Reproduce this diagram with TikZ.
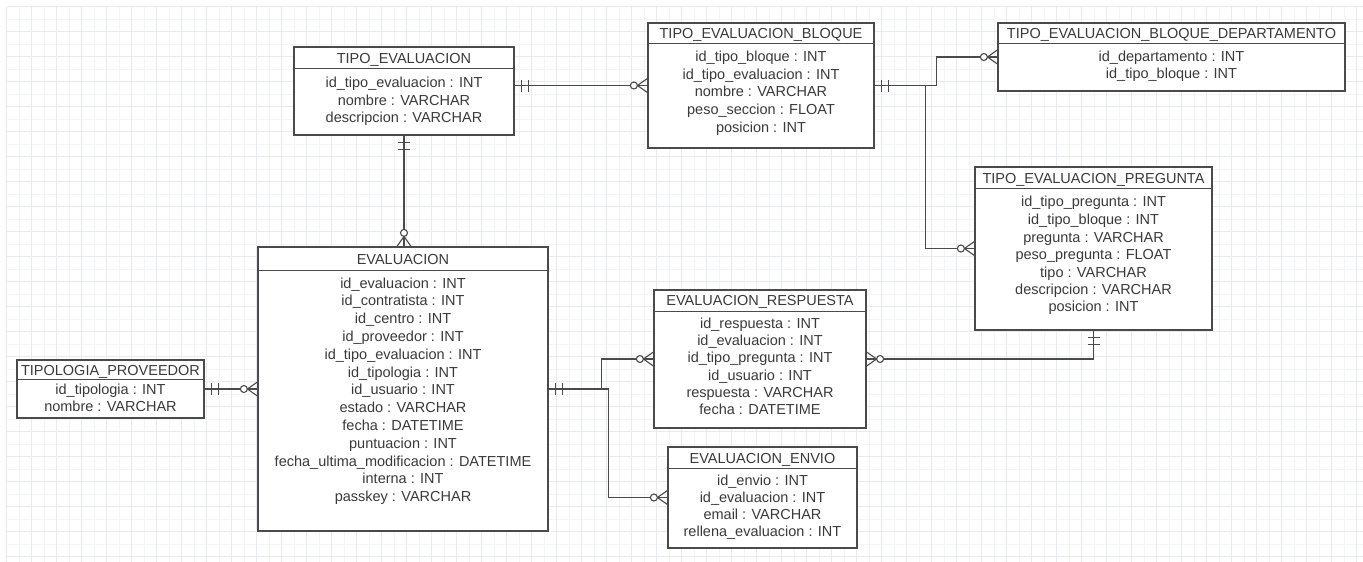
\documentclass[tikz,border=0pt]{standalone}
\usepackage{fontspec}
\setmainfont{Liberation Sans}
\definecolor{gridc}{HTML}{E8EAF1}
\definecolor{gridm}{HTML}{F3F4F8}
\definecolor{linec}{HTML}{4A4A4A}
\definecolor{txtc}{HTML}{3A3A3A}
\tikzset{
  tbl/.style={draw=linec, line width=1.2pt, fill=white, inner sep=0pt, rectangle},
  sepline/.style={draw=linec, line width=1.2pt},
  lbl/.style={inner sep=0pt, text=txtc, font=\fontsize{14.5}{16}\selectfont, anchor=base},
  rel/.style={draw=linec, line width=1.1pt},
  onemark/.pic={\draw[rel] (7,-6) -- (7,6); \draw[rel] (14,-6) -- (14,6);},
  zeromany/.pic={\draw[rel] (0,-7) -- (10,0) -- (0,7); \draw[rel] (0,0) -- (10,0); \draw[rel, fill=white] (13.5,0) circle (3.5);},
}
\newcommand\rowtext[4]{\node[lbl] (#1) at (#2,{#3+5}) {#4};}
\newcommand\hsep[2]{\draw[sepline] ([yshift=-#2pt]#1.north west) -- ([yshift=-#2pt]#1.north east);}
\begin{document}
\begin{tikzpicture}[x=1pt,y=-1pt]
\useasboundingbox (0,0) rectangle (1363,562);
\fill[white] (0,0) rectangle (1363,562);
% grid
\foreach \i in {0,...,108} { \draw[gridm, line width=0.6pt] ({6.7+12.5*\i},6.7) -- ({6.7+12.5*\i},562); }
\foreach \j in {0,...,44} { \draw[gridm, line width=0.6pt] (6.7,{6.7+12.5*\j}) -- (1363,{6.7+12.5*\j}); }
\foreach \i in {0,...,54} { \draw[gridc, line width=0.8pt] ({6.7+25*\i},6.7) -- ({6.7+25*\i},562); }
\foreach \j in {0,...,22} { \draw[gridc, line width=0.8pt] (6.7,{6.7+25*\j}) -- (1363,{6.7+25*\j}); }

% TIPO_EVALUACION
\node[tbl, minimum width=220, minimum height=88] (te) at (404,91) {};
\hsep{te}{22}
\rowtext{te-t}{404}{58}{TIPO\_EVALUACION}
\rowtext{te-1}{404}{82}{id\_tipo\_evaluacion : INT}
\rowtext{te-2}{404}{100}{nombre : VARCHAR}
\rowtext{te-3}{404}{117}{descripcion : VARCHAR}

% TIPO_EVALUACION_BLOQUE
\node[tbl, minimum width=226, minimum height=125] (teb) at (761,85.5) {};
\hsep{teb}{21}
\rowtext{teb-t}{761}{33.5}{TIPO\_EVALUACION\_BLOQUE}
\rowtext{teb-1}{761}{56}{id\_tipo\_bloque : INT}
\rowtext{teb-2}{761}{74}{id\_tipo\_evaluacion : INT}
\rowtext{teb-3}{761}{91}{nombre : VARCHAR}
\rowtext{teb-4}{761}{109}{peso\_seccion : FLOAT}
\rowtext{teb-5}{761}{127}{posicion : INT}

% TIPO_EVALUACION_BLOQUE_DEPARTAMENTO
\node[tbl, minimum width=347, minimum height=68] (tebd) at (1171.5,57) {};
\hsep{tebd}{21}
\rowtext{tebd-t}{1171.5}{33.5}{TIPO\_EVALUACION\_BLOQUE\_DEPARTAMENTO}
\rowtext{tebd-1}{1171.5}{56}{id\_departamento : INT}
\rowtext{tebd-2}{1171.5}{73}{id\_tipo\_bloque : INT}

% TIPO_EVALUACION_PREGUNTA
\node[tbl, minimum width=237, minimum height=163] (tep) at (1093.5,248.5) {};
\hsep{tep}{22}
\rowtext{tep-t}{1093.5}{178}{TIPO\_EVALUACION\_PREGUNTA}
\rowtext{tep-1}{1093.5}{201}{id\_tipo\_pregunta : INT}
\rowtext{tep-2}{1093.5}{219}{id\_tipo\_bloque : INT}
\rowtext{tep-3}{1093.5}{237}{pregunta : VARCHAR}
\rowtext{tep-4}{1093.5}{254}{peso\_pregunta : FLOAT}
\rowtext{tep-5}{1093.5}{272}{tipo : VARCHAR}
\rowtext{tep-6}{1093.5}{289}{descripcion : VARCHAR}
\rowtext{tep-7}{1093.5}{306}{posicion : INT}

% EVALUACION
\node[tbl, minimum width=290, minimum height=284] (ev) at (403,389) {};
\hsep{ev}{24}
\rowtext{ev-t}{403}{259}{EVALUACION}
\rowtext{ev-1}{403}{283}{id\_evaluacion : INT}
\rowtext{ev-2}{403}{300.8}{id\_contratista : INT}
\rowtext{ev-3}{403}{318.6}{id\_centro : INT}
\rowtext{ev-4}{403}{336.4}{id\_proveedor : INT}
\rowtext{ev-5}{403}{354.2}{id\_tipo\_evaluacion : INT}
\rowtext{ev-6}{403}{372}{id\_tipologia : INT}
\rowtext{ev-7}{403}{389.8}{id\_usuario : INT}
\rowtext{ev-8}{403}{407.6}{estado : VARCHAR}
\rowtext{ev-9}{403}{425.4}{fecha : DATETIME}
\rowtext{ev-10}{403}{443.2}{puntuacion : INT}
\rowtext{ev-11}{403}{461}{fecha\_ultima\_modificacion : DATETIME}
\rowtext{ev-12}{403}{478.8}{interna : INT}
\rowtext{ev-13}{403}{496.6}{passkey : VARCHAR}

% TIPOLOGIA_PROVEEDOR
\node[tbl, minimum width=187, minimum height=58] (tp) at (110.5,389) {};
\hsep{tp}{20}
\rowtext{tp-t}{110.5}{370}{TIPOLOGIA\_PROVEEDOR}
\rowtext{tp-1}{110.5}{389}{id\_tipologia : INT}
\rowtext{tp-2}{110.5}{406}{nombre : VARCHAR}

% EVALUACION_RESPUESTA
\node[tbl, minimum width=212, minimum height=138] (er) at (760,359) {};
\hsep{er}{22}
\rowtext{er-t}{760}{300}{EVALUACION\_RESPUESTA}
\rowtext{er-1}{760}{323}{id\_respuesta : INT}
\rowtext{er-2}{760}{340}{id\_evaluacion : INT}
\rowtext{er-3}{760}{357.5}{id\_tipo\_pregunta : INT}
\rowtext{er-4}{760}{375}{id\_usuario : INT}
\rowtext{er-5}{760}{392}{respuesta : VARCHAR}
\rowtext{er-6}{760}{409}{fecha : DATETIME}

% EVALUACION_ENVIO
\node[tbl, minimum width=189, minimum height=101] (ee) at (762.5,497.5) {};
\hsep{ee}{22}
\rowtext{ee-t}{762.5}{458}{EVALUACION\_ENVIO}
\rowtext{ee-1}{762.5}{480.5}{id\_envio : INT}
\rowtext{ee-2}{762.5}{497.5}{id\_evaluacion : INT}
\rowtext{ee-3}{762.5}{514.5}{email : VARCHAR}
\rowtext{ee-4}{762.5}{531.5}{rellena\_evaluacion : INT}

% connectors
\draw[rel] (teb.west -| te.east) -- (teb.west);
\draw[rel] (te.south) -- (te.south |- ev.north);
\draw[rel] (teb.east) -- ++(62,0) |- (tebd.west);
\draw[rel] (teb.east) -- ++(51,0) |- (tep.west);
\draw[rel] (ev.east) -- ++(53,0) |- (er.west);
\draw[rel] (ev.east) -- ++(60,0) |- (ee.west);
\draw[rel] (tp.east) -- (ev.west |- tp.east);
\draw[rel] (er.east) -| (tep.south);

% markers
\pic[rotate=0] at (teb.west -| te.east) {onemark};
\pic[rotate=180] at (teb.west) {zeromany};
\pic[rotate=-90] at (te.south) {onemark};
\pic[rotate=90] at (te.south |- ev.north) {zeromany};
\pic[rotate=0] at (teb.east) {onemark};
\pic[rotate=180] at (tebd.west) {zeromany};
\pic[rotate=180] at (tep.west) {zeromany};
\pic[rotate=0] at (ev.east) {onemark};
\pic[rotate=180] at (er.west) {zeromany};
\pic[rotate=180] at (ee.west) {zeromany};
\pic[rotate=0] at (tp.east) {onemark};
\pic[rotate=180] at (ev.west |- tp.east) {zeromany};
\pic[rotate=0] at (er.east) {zeromany};
\pic[rotate=-90] at (tep.south) {onemark};
\end{tikzpicture}
\end{document}
